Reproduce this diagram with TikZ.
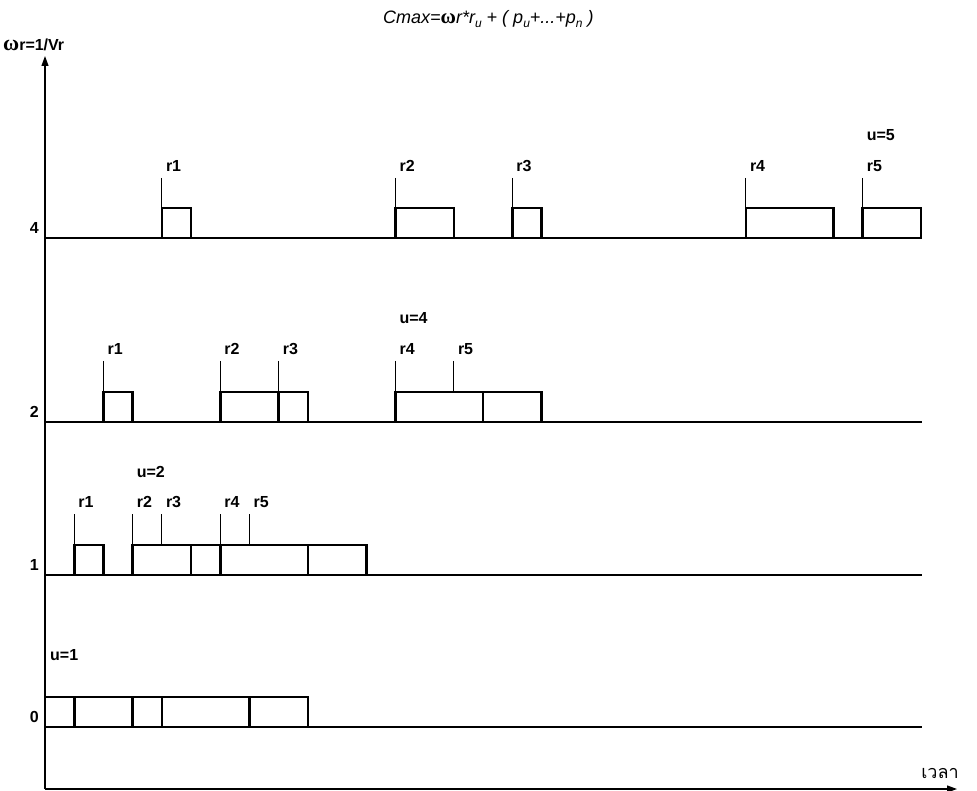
\documentclass[tikz,border=0pt]{standalone}
\usepackage{fontspec}
\setmainfont{Liberation Sans}
\newfontfamily\thaifont[Script=Thai]{Loma}
\newfontfamily\omegafont{Liberation Serif}
\usetikzlibrary{arrows.meta}
\newcommand\JB[4]{\node[jobbox,minimum width={29.2pt*#3}] (#1) at ({45+#2*29.2},#4) {};}
\newcommand\subl[1]{\raisebox{-0.45ex}{\fontsize{12}{12}\selectfont #1}}
\begin{document}
\begin{tikzpicture}[x=1pt,y=-1pt,
  jobbox/.style={draw, line width=2.6pt, minimum height=30pt, inner sep=0pt, outer sep=0pt, anchor=south west},
  baseln/.style={line width=1.2pt},
  tickln/.style={line width=0.9pt},
  lbl/.style={font=\fontsize{16}{16}\selectfont\bfseries, anchor=west, inner sep=0pt},
  lvl/.style={font=\fontsize{16}{16}\selectfont\bfseries, anchor=east, inner sep=0pt},
  axisln/.style={line width=1.2pt, -{Triangle[length=10pt,width=7pt]}}]
\useasboundingbox (0,0) rectangle (977,791);

% title
\node[anchor=west, inner sep=0pt, font=\fontsize{18}{18}\selectfont\itshape] (title) at (383,19)
  {Cmax={\upshape\omegafont\bfseries\fontsize{21}{21}\selectfont ω}r*r\subl{u} + ( p\subl{u}+...+p\subl{n} )};

% axes
\coordinate (O) at (45,789);
\coordinate (ytop) at (45,56);
\coordinate (xend) at (957,789);
\draw[axisln] (O) -- (ytop);
\draw[axisln] (O) -- (xend);
\node[anchor=west, inner sep=0pt, font=\fontsize{16}{16}\selectfont\bfseries] (ylab) at (3,45)
  {{\omegafont\fontsize{22}{22}\selectfont ω}r=1/Vr};
\node[inner sep=0pt, font=\thaifont\fontsize{18}{18}\selectfont] (xlab) at (940,773) {เวลา};

% baselines
\foreach \n/\y in {4/238,2/422,1/575,0/727}{
  \coordinate (L\n s) at (45,\y);
  \coordinate (L\n e) at (922,\y);
  \draw[baseln] (L\n s) -- (L\n e);
  \node[lvl] (lv\n) at (39,\y-10) {\n};
}

% ---------- level 4 ----------
\JB{b4a}{4}{1}{238}
\JB{b4b}{12}{2}{238}
\JB{b4c}{16}{1}{238}
\JB{b4d}{24}{3}{238}
\JB{b4e}{28}{2}{238}
\foreach \b/\t in {a/4,b/12,c/16,d/24,e/28}{
  \coordinate (t4\b) at ({45+\t*29.2},178);
  \draw[tickln] (t4\b) -- (t4\b |- b4\b.north);
}
\node[lbl] (r4a) at ([xshift=4pt,yshift=12pt]t4a) {r1};
\node[lbl] (r4b) at ([xshift=4pt,yshift=12pt]t4b) {r2};
\node[lbl] (r4c) at ([xshift=4pt,yshift=12pt]t4c) {r3};
\node[lbl] (r4d) at ([xshift=4pt,yshift=12pt]t4d) {r4};
\node[lbl] (r4e) at ([xshift=4pt,yshift=12pt]t4e) {r5};
\node[lbl] (u4) at ([xshift=4pt,yshift=43pt]t4e) {u=5};

% ---------- level 2 ----------
\JB{b2a}{2}{1}{422}
\JB{b2b}{6}{2}{422}
\JB{b2c}{8}{1}{422}
\JB{b2d}{12}{3}{422}
\JB{b2e}{15}{2}{422}
\foreach \b/\t/\bx in {a/2/a,b/6/b,c/8/c,d/12/d,e/14/d}{
  \coordinate (t2\b) at ({45+\t*29.2},361);
  \draw[tickln] (t2\b) -- (t2\b |- b2\bx.north);
}
\node[lbl] (r2a) at ([xshift=4pt,yshift=12pt]t2a) {r1};
\node[lbl] (r2b) at ([xshift=4pt,yshift=12pt]t2b) {r2};
\node[lbl] (r2c) at ([xshift=4pt,yshift=12pt]t2c) {r3};
\node[lbl] (r2d) at ([xshift=4pt,yshift=12pt]t2d) {r4};
\node[lbl] (r2e) at ([xshift=4pt,yshift=12pt]t2e) {r5};
\node[lbl] (u2) at ([xshift=4pt,yshift=43pt]t2d) {u=4};

% ---------- level 1 ----------
\JB{b1a}{1}{1}{575}
\JB{b1b}{3}{2}{575}
\JB{b1c}{5}{1}{575}
\JB{b1d}{6}{3}{575}
\JB{b1e}{9}{2}{575}
\foreach \b/\t/\bx in {a/1/a,b/3/b,c/4/b,d/6/d,e/7/d}{
  \coordinate (t1\b) at ({45+\t*29.2},514);
  \draw[tickln] (t1\b) -- (t1\b |- b1\bx.north);
}
\node[lbl] (r1a) at ([xshift=4pt,yshift=12pt]t1a) {r1};
\node[lbl] (r1b) at ([xshift=4pt,yshift=12pt]t1b) {r2};
\node[lbl] (r1c) at ([xshift=4pt,yshift=12pt]t1c) {r3};
\node[lbl] (r1d) at ([xshift=4pt,yshift=12pt]t1d) {r4};
\node[lbl] (r1e) at ([xshift=4pt,yshift=12pt]t1e) {r5};
\node[lbl] (u1) at ([xshift=4pt,yshift=42pt]t1b) {u=2};

% ---------- level 0 ----------
\JB{b0a}{0}{1}{727}
\JB{b0b}{1}{2}{727}
\JB{b0c}{3}{1}{727}
\JB{b0d}{4}{3}{727}
\JB{b0e}{7}{2}{727}
\node[lbl] (u0) at (50,655) {u=1};
\end{tikzpicture}
\end{document}
